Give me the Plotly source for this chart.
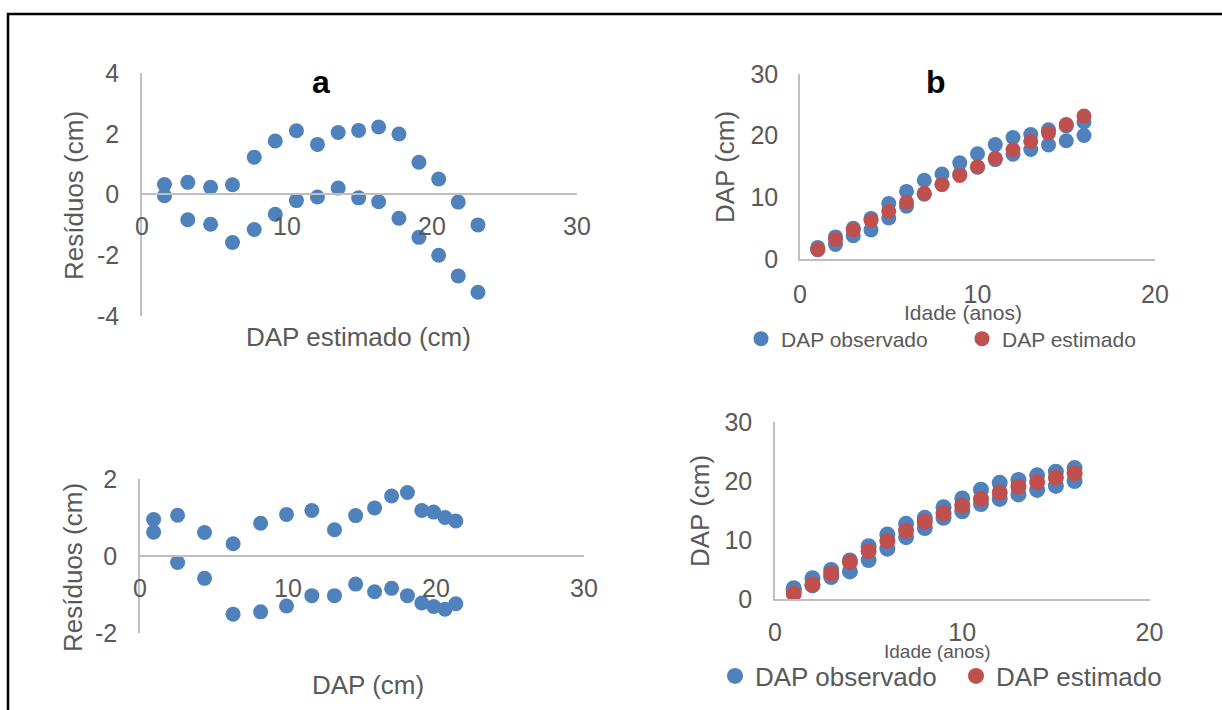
import plotly.graph_objects as go

W, H = 1222, 710

# ---- data -------------------------------------------------------------
idade = list(range(1, 17))

# observed DBH of the two sampled trees (cm)
dap_obs_a = [1.88, 3.58, 4.97, 6.58, 8.98, 10.96, 12.77, 13.78, 15.59, 17.07,
             18.55, 19.71, 20.19, 20.97, 21.58, 22.21]
dap_obs_b = [1.52, 2.35, 3.76, 4.72, 6.64, 8.57, 10.51, 12.07, 13.79, 14.88,
             16.12, 16.99, 17.75, 18.50, 19.18, 20.02]

# model 1 (panel a / top right)
dap_est_1 = [1.55, 3.16, 4.73, 6.24, 7.74, 9.19, 10.65, 12.10, 13.53, 14.94,
             16.32, 17.72, 19.10, 20.46, 21.81, 23.17]
res_1_a = [0.33, 0.40, 0.24, 0.32, 1.23, 1.76, 2.10, 1.65, 2.04, 2.11,
           2.22, 1.99, 1.06, 0.51, -0.25, -1.00]
res_1_b = [-0.04, -0.83, -0.98, -1.58, -1.15, -0.65, -0.20, -0.08, 0.21, -0.11,
           -0.24, -0.78, -1.41, -2.00, -2.68, -3.22]

# model 2 (bottom row)
dap_est_2 = [0.92, 2.54, 4.36, 6.29, 8.15, 9.90, 11.61, 13.14, 14.57, 15.85,
             17.00, 18.07, 19.04, 19.84, 20.61, 21.34]
res_2_a = [0.95, 1.06, 0.61, 0.32, 0.85, 1.08, 1.18, 0.68, 1.05, 1.25,
           1.56, 1.65, 1.18, 1.14, 1.00, 0.91]
res_2_b = [0.62, -0.17, -0.58, -1.51, -1.45, -1.30, -1.03, -1.03, -0.73, -0.93,
           -0.84, -1.03, -1.22, -1.31, -1.38, -1.24]

res_ticks_1 = [-4, -2, 0, 2, 4]
res_ticks_2 = [-2, 0, 2]
res_ticktext_1 = ["-4", "-2", "0", "2", "4"]
res_ticktext_2 = ["-2", "0", "2"]

# ---- styling ----------------------------------------------------------
BLUE = "#4F81BD"
RED = "#C0504D"
GREY_TXT = "#595959"
AXIS = "#BFBFBF"
FONT = "Liberation Sans, Arial, sans-serif"


def px_x(p):
    return p / W


def px_y(p):
    return 1 - p / H


fig = go.Figure()

# panel a: residuals of model 1
fig.add_trace(go.Scatter(x=dap_est_1 + dap_est_1, y=res_1_a + res_1_b,
                         mode="markers", marker=dict(color=BLUE, size=15),
                         showlegend=False, xaxis="x", yaxis="y"))
# panel b: observed vs estimated, model 1
fig.add_trace(go.Scatter(x=idade + idade, y=dap_obs_a + dap_obs_b,
                         mode="markers", name="DAP observado",
                         marker=dict(color=BLUE, size=15),
                         xaxis="x2", yaxis="y2", legend="legend"))
fig.add_trace(go.Scatter(x=idade, y=dap_est_1, mode="markers",
                         name="DAP estimado", marker=dict(color=RED, size=15),
                         xaxis="x2", yaxis="y2", legend="legend"))
# bottom left: residuals of model 2
fig.add_trace(go.Scatter(x=dap_est_2 + dap_est_2, y=res_2_a + res_2_b,
                         mode="markers", marker=dict(color=BLUE, size=15),
                         showlegend=False, xaxis="x3", yaxis="y3"))
# bottom right: observed vs estimated, model 2
fig.add_trace(go.Scatter(x=idade + idade, y=dap_obs_a + dap_obs_b,
                         mode="markers", name="DAP observado",
                         marker=dict(color=BLUE, size=16),
                         xaxis="x4", yaxis="y4", legend="legend2"))
fig.add_trace(go.Scatter(x=idade, y=dap_est_2, mode="markers",
                         name="DAP estimado", marker=dict(color=RED, size=16),
                         xaxis="x4", yaxis="y4", legend="legend2"))

common = dict(showgrid=False, zeroline=False, showline=True, linecolor=AXIS,
              linewidth=1.5, ticks="outside", tickcolor="rgba(0,0,0,0)",
              tickfont=dict(size=25, color=GREY_TXT, family=FONT),
              automargin=False, fixedrange=True)

fig.update_layout(
    width=W, height=H,
    margin=dict(l=0, r=0, t=0, b=0, pad=0, autoexpand=False),
    paper_bgcolor="white", plot_bgcolor="rgba(0,0,0,0)",
    font=dict(family=FONT, color=GREY_TXT),
    # panel a
    xaxis=dict(common, domain=[px_x(142), px_x(577)], range=[0, 30],
               tickvals=[0, 10, 20, 30], anchor="free", position=px_y(194),
               ticklen=10),
    yaxis=dict(common, domain=[px_y(316), px_y(73)], range=[-4, 4],
               tickvals=res_ticks_1, ticktext=res_ticktext_1, anchor="x",
               ticklen=16),
    # panel b
    xaxis2=dict(common, domain=[px_x(800), px_x(1155)], range=[0, 20],
                tickvals=[0, 10, 20], anchor="y2", ticklen=12),
    yaxis2=dict(common, domain=[px_y(259), px_y(74)], range=[0, 30],
                tickvals=[0, 10, 20, 30], anchor="x2", ticklen=15),
    # bottom left
    xaxis3=dict(common, domain=[px_x(140), px_x(584)], range=[0, 30],
                tickvals=[0, 10, 20, 30], anchor="free", position=px_y(556),
                ticklen=10),
    yaxis3=dict(common, domain=[px_y(633), px_y(479)], range=[-2, 2],
                tickvals=res_ticks_2, ticktext=res_ticktext_2, anchor="x3",
                ticklen=16),
    # bottom right
    xaxis4=dict(common, domain=[px_x(775), px_x(1149.5)], range=[0, 20],
                tickvals=[0, 10, 20], anchor="y4", ticklen=10),
    yaxis4=dict(common, domain=[px_y(599.3), px_y(422)], range=[0, 30],
                tickvals=[0, 10, 20, 30], anchor="x4", ticklen=16),
    legend=dict(orientation="h", x=px_x(741), y=px_y(339), xanchor="left",
                yanchor="middle", entrywidth=176, entrywidthmode="pixels",
                font=dict(size=21, color=GREY_TXT, family=FONT),
                bgcolor="rgba(0,0,0,0)", itemclick=False,
                itemdoubleclick=False),
    legend2=dict(orientation="h", x=px_x(715), y=px_y(676), xanchor="left",
                 yanchor="middle", entrywidth=196, entrywidthmode="pixels",
                 font=dict(size=26, color=GREY_TXT, family=FONT),
                 bgcolor="rgba(0,0,0,0)", itemclick=False,
                 itemdoubleclick=False),
)


def label(text, x, y, size, angle=0, bold=False, color=GREY_TXT):
    fig.add_annotation(text=f"<b>{text}</b>" if bold else text,
                       x=px_x(x), y=px_y(y), xref="paper", yref="paper",
                       xanchor="center", yanchor="middle", showarrow=False,
                       textangle=angle,
                       font=dict(size=size, color=color, family=FONT))


# panel letters
label("a", 321, 82, 32, bold=True, color="black")
label("b", 936, 82, 32, bold=True, color="black")

# axis titles
label("Resíduos (cm)", 74, 196, 26, angle=-90)
label("DAP estimado (cm)", 358, 337, 26)
label("DAP (cm)", 725, 167, 26, angle=-90)
label("Idade (anos)", 963, 312, 21)
label("Resíduos (cm)", 73, 568, 26, angle=-90)
label("DAP (cm)", 368, 685, 26)
label("DAP (cm)", 700, 511, 26, angle=-90)
label("Idade (anos)", 937, 651, 19)

# frame lines along the top and left of the figure cell
fig.add_shape(type="line", xref="paper", yref="paper",
              x0=px_x(7), x1=1, y0=px_y(14), y1=px_y(14),
              line=dict(color="black", width=2.5))
fig.add_shape(type="line", xref="paper", yref="paper",
              x0=px_x(8), x1=px_x(8), y0=px_y(13), y1=0,
              line=dict(color="black", width=2.5))

fig.write_html("out.html", config={"displayModeBar": False})
